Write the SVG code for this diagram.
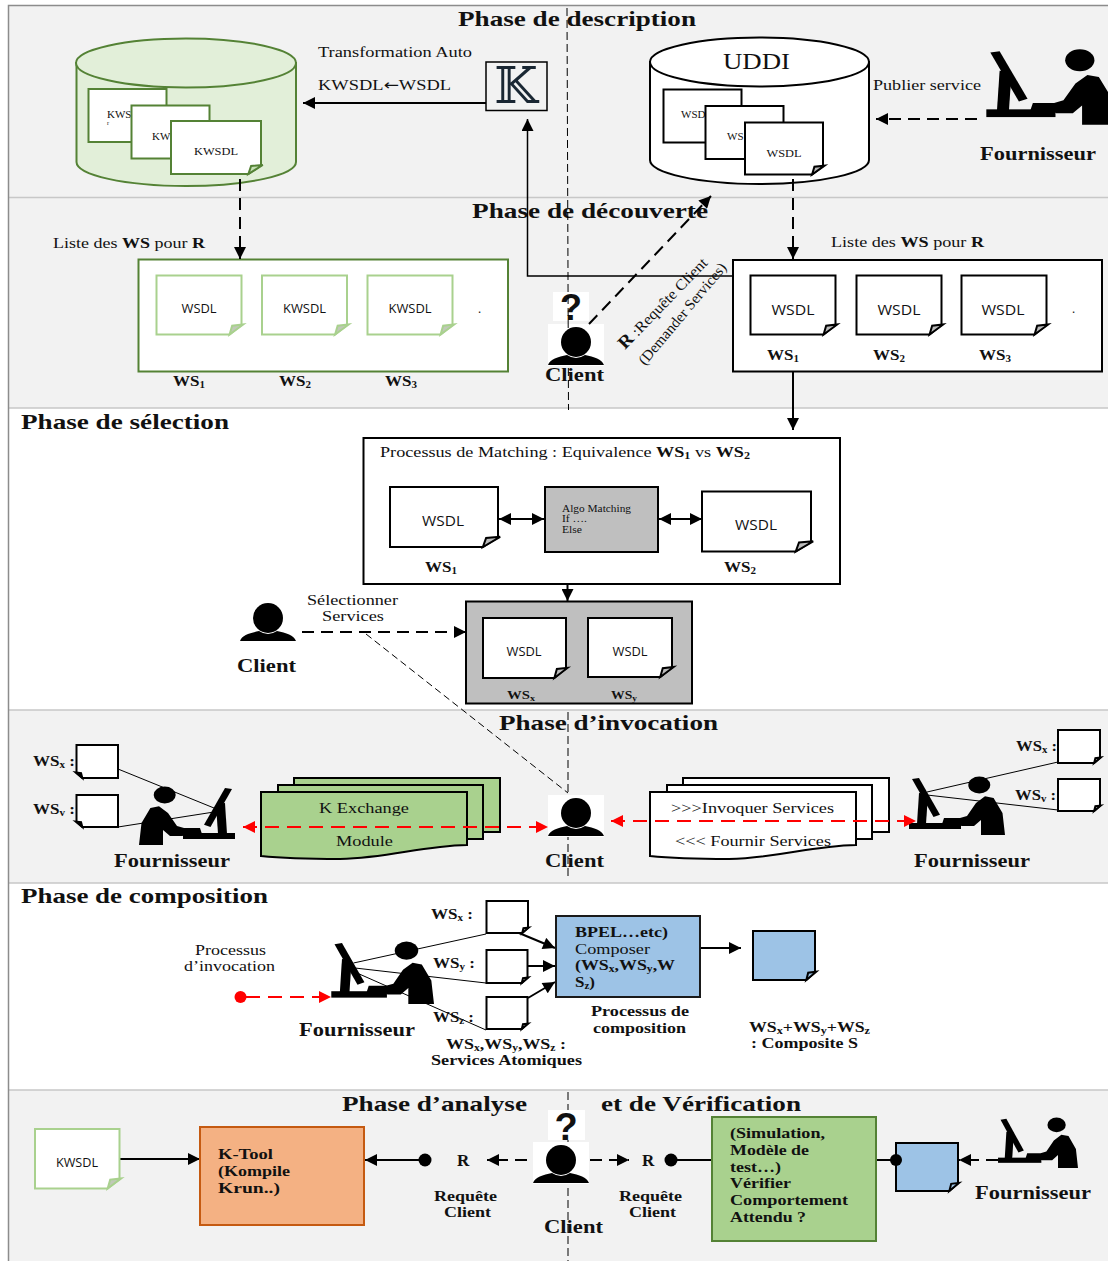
<svg xmlns="http://www.w3.org/2000/svg" width="1108" height="1261" viewBox="0 0 1108 1261">
<style>
text{font-family:"Liberation Serif","Times New Roman",serif;fill:#111}
.r{font-size:15px}
.b{font-size:15.5px;font-weight:700}
.h{font-size:21px;font-weight:700}
.f{font-size:18px;font-weight:700}
.s{font-family:"Open Sans","DejaVu Sans",sans-serif}
.m{text-anchor:middle}
.band{fill:#f2f2f2}
.sep{stroke:#c8c8c8;stroke-width:1.5;fill:none}
.a{fill:none;stroke:#000;stroke-width:2}
.a1{fill:none;stroke:#000;stroke-width:1.5}
.thin{fill:none;stroke:#000;stroke-width:1}
.d{fill:none;stroke:#000;stroke-width:2;stroke-dasharray:12 7}
.dr{fill:none;stroke:#f00;stroke-width:2;stroke-dasharray:14 8}
.cd{fill:none;stroke:#000;stroke-width:1;stroke-dasharray:7 4}
.box{fill:#fff;stroke:#000;stroke-width:2}
.doc{fill:#fff;stroke:#000;stroke-width:2;color:#bbb}
.gdoc{fill:#fff;stroke:#548235;stroke-width:2;color:#c5e0b4}
.ldoc{fill:#fff;stroke:#a9d18e;stroke-width:2;color:#c0c8b8}
.bdoc{fill:#9dc3e6;stroke:#000;stroke-width:2;color:#9dc3e6}
</style>
<defs>
<marker id="ah" viewBox="0 0 12 12" refX="12" refY="6" markerWidth="13" markerHeight="12" markerUnits="userSpaceOnUse" orient="auto-start-reverse"><path d="M0,0L12,6L0,12Z" fill="#000"/></marker>
<marker id="ar" viewBox="0 0 12 12" refX="12" refY="6" markerWidth="13" markerHeight="12" markerUnits="userSpaceOnUse" orient="auto-start-reverse"><path d="M0,0L12,6L0,12Z" fill="#f00"/></marker>
<symbol id="sdoc" viewBox="0 0 100 100" width="100" height="100" overflow="visible"><path vector-effect="non-scaling-stroke" d="M0,0H100V84L86,100H0Z"/><path vector-effect="non-scaling-stroke" d="M102,83L86,100L89,85Z" fill="currentColor"/></symbol>
<symbol id="ldocs" viewBox="0 0 100 100" width="100" height="100" overflow="visible"><path vector-effect="non-scaling-stroke" d="M0,0H100V100H14L0,84Z"/><path vector-effect="non-scaling-stroke" d="M-2,83L14,100L11,85Z" fill="#000"/></symbol>
<symbol id="prov" viewBox="0 0 96 58" width="96" height="58" overflow="visible"><ellipse cx="25.700" cy="8" rx="11" ry="8.500"/><path d="M0,58L2.500,36L11.400,21L20,19.300L29,26L38,39L45,41L61,41L63,47L45,48L43.500,49L31,49L24,43L24,58Z"/><rect x="44" y="46" width="52" height="6"/><path d="M77,17L86,16L88,47L79,47Z"/><path d="M65,37.700L86,1L93,2L71.500,40Z"/></symbol>
<symbol id="cli" viewBox="0 0 56 42" width="56" height="42"><rect width="56" height="42" fill="#fff"/><circle cx="28" cy="18" r="15"/><path d="M0,41C2,35 10,33 19,31Q28,37 37,31C46,33 54,35 56,41Z"/></symbol>
</defs>

<g id="bands">
<rect class="band" x="9" y="6" width="1099" height="402"/>
<rect class="band" x="9" y="710" width="1099" height="173"/>
<rect class="band" x="9" y="1090" width="1099" height="171"/>
<path class="sep" d="M9,197.500H1108M9,408H1108M9,710H1108M9,883H1108M9,1090H1108"/>
<path d="M1108,5.500H8.500V1261" fill="none" stroke="#8c8c8c" stroke-width="1.500"/>
</g>

<g id="phase-titles">
<text class="h" x="458" y="26" textLength="238" lengthAdjust="spacingAndGlyphs">Phase de description</text>
<text class="h" x="472" y="218" textLength="236" lengthAdjust="spacingAndGlyphs">Phase de découverte</text>
<text class="h" x="21" y="429" textLength="208" lengthAdjust="spacingAndGlyphs">Phase de sélection</text>
<text class="h" x="499" y="730" textLength="219" lengthAdjust="spacingAndGlyphs">Phase d’invocation</text>
<text class="h" x="21" y="903" textLength="247" lengthAdjust="spacingAndGlyphs">Phase de composition</text>
<text class="h" x="342" y="1111" textLength="185" lengthAdjust="spacingAndGlyphs">Phase d’analyse</text>
<text class="h" x="601" y="1111" textLength="200" lengthAdjust="spacingAndGlyphs">et de Vérification</text>
</g>

<g id="kwsdl-store">
<path d="M76.500,63V162C76.500,175 125,186 186,186S296,175 296,162V63Z" fill="#e2efd9" stroke="#548235" stroke-width="2"/>
<ellipse cx="186" cy="63" rx="110" ry="24.500" fill="#e2efd9" stroke="#548235" stroke-width="2"/>
<rect x="88.500" y="89" width="78" height="53" fill="#fff" stroke="#548235" stroke-width="2"/>
<text x="107" y="118" font-size="11">KWS</text>
<text x="107" y="125" font-size="6">r</text>
<rect x="131.500" y="105.500" width="78" height="53" fill="#fff" stroke="#548235" stroke-width="2"/>
<text x="152" y="140" font-size="11">KW</text>
<use href="#sdoc" class="gdoc" transform="translate(171,121) scale(.9,.53)"/>
<text class="m" x="216" y="155" font-size="11" textLength="44" lengthAdjust="spacingAndGlyphs">KWSDL</text>
</g>

<g id="k-tool-box">
<rect x="486" y="62" width="61" height="48.500" fill="#f2f2f2" stroke="#000" stroke-width="1.500"/>
<text class="m" x="516" y="103" font-size="50" style="font-family:'DejaVu Serif','DejaVu Sans',serif;fill:#1a2733">𝕂</text>
</g>
<g id="labels-top">
<text class="r" x="318" y="57" textLength="154" lengthAdjust="spacingAndGlyphs">Transformation Auto</text>
<text class="r" x="318" y="90" textLength="133" lengthAdjust="spacingAndGlyphs">KWSDL<tspan style="font-family:'DejaVu Sans',sans-serif">←</tspan>WSDL</text>
<text class="r" x="873" y="90" textLength="108" lengthAdjust="spacingAndGlyphs">Publier service</text>
</g>

<g id="uddi-store">
<path d="M650,62V160C650,173 699,184 759.500,184S869,173 869,160V62Z" fill="#fff" stroke="#000" stroke-width="2"/>
<ellipse cx="759.500" cy="62" rx="109.500" ry="24.500" fill="#fff" stroke="#000" stroke-width="2"/>
<text x="723" y="69" font-size="24" textLength="67" lengthAdjust="spacingAndGlyphs">UDDI</text>
<rect x="663.500" y="89.500" width="78" height="53" fill="#fff" stroke="#000" stroke-width="2"/>
<text x="681" y="118" font-size="11">WSD</text>
<rect x="705.500" y="106" width="78" height="53" fill="#fff" stroke="#000" stroke-width="2"/>
<text x="727" y="140" font-size="11">WS</text>
<use href="#sdoc" class="doc" transform="translate(745,122.500) scale(.78,.52)"/>
<text class="m" x="784" y="157" font-size="11" textLength="35" lengthAdjust="spacingAndGlyphs">WSDL</text>
</g>

<g id="fournisseur-publie">
<use href="#prov" transform="translate(1114,50) scale(-1.330,1.290)"/>
<text class="f" x="980" y="160" textLength="116" lengthAdjust="spacingAndGlyphs">Fournisseur</text>
</g>

<g id="liste-kwsdl">
<text class="r" x="53" y="248" textLength="152" lengthAdjust="spacingAndGlyphs">Liste des <tspan font-weight="700">WS</tspan> pour <tspan font-weight="700">R</tspan></text>
<rect x="138.500" y="259.500" width="369.500" height="112" fill="#fff" stroke="#548235" stroke-width="2"/>
<use href="#sdoc" class="ldoc" transform="translate(156.500,275.500) scale(.85,.59)"/>
<use href="#sdoc" class="ldoc" transform="translate(262,275.500) scale(.85,.59)"/>
<use href="#sdoc" class="ldoc" transform="translate(367.500,275.500) scale(.85,.59)"/>
<text class="s m" x="199" y="313" font-size="12.500" textLength="35" lengthAdjust="spacingAndGlyphs">WSDL</text>
<text class="s m" x="304.500" y="313" font-size="12.500" textLength="43" lengthAdjust="spacingAndGlyphs">KWSDL</text>
<text class="s m" x="410" y="313" font-size="12.500" textLength="43" lengthAdjust="spacingAndGlyphs">KWSDL</text>
<text class="s" x="478" y="313" font-size="12">.</text>
<text class="b" x="173" y="386" textLength="32" lengthAdjust="spacingAndGlyphs">WS<tspan font-size="10" dy="2">1</tspan></text>
<text class="b" x="279" y="386" textLength="32" lengthAdjust="spacingAndGlyphs">WS<tspan font-size="10" dy="2">2</tspan></text>
<text class="b" x="385" y="386" textLength="32" lengthAdjust="spacingAndGlyphs">WS<tspan font-size="10" dy="2">3</tspan></text>
</g>

<g id="liste-wsdl">
<text class="r" x="831" y="247" textLength="153" lengthAdjust="spacingAndGlyphs">Liste des <tspan font-weight="700">WS</tspan> pour <tspan font-weight="700">R</tspan></text>
<rect class="box" x="733" y="260" width="369" height="111.500"/>
<use href="#sdoc" class="doc" transform="translate(750.500,275.500) scale(.85,.59)"/>
<use href="#sdoc" class="doc" transform="translate(856.500,275.500) scale(.85,.59)"/>
<use href="#sdoc" class="doc" transform="translate(961.500,275.500) scale(.85,.59)"/>
<text class="s m" x="793" y="315" font-size="15" textLength="43" lengthAdjust="spacingAndGlyphs">WSDL</text>
<text class="s m" x="899" y="315" font-size="15" textLength="43" lengthAdjust="spacingAndGlyphs">WSDL</text>
<text class="s m" x="1003" y="315" font-size="15" textLength="43" lengthAdjust="spacingAndGlyphs">WSDL</text>
<text class="s" x="1072" y="313" font-size="12">.</text>
<text class="b" x="767" y="360" textLength="32" lengthAdjust="spacingAndGlyphs">WS<tspan font-size="10" dy="2">1</tspan></text>
<text class="b" x="873" y="360" textLength="32" lengthAdjust="spacingAndGlyphs">WS<tspan font-size="10" dy="2">2</tspan></text>
<text class="b" x="979" y="360" textLength="32" lengthAdjust="spacingAndGlyphs">WS<tspan font-size="10" dy="2">3</tspan></text>
</g>

<g id="client-decouverte">
<rect x="553" y="292" width="36" height="29" fill="#fff"/>
<text class="m" x="571" y="320" font-size="36" font-weight="700" style="font-family:'Liberation Sans',sans-serif">?</text>
<use href="#cli" x="548" y="324"/>
<text class="f" x="545" y="381" textLength="59" lengthAdjust="spacingAndGlyphs">Client</text>
<text class="r" transform="translate(625,350) rotate(-46)" textLength="120" lengthAdjust="spacingAndGlyphs"><tspan font-weight="700" font-size="18">R</tspan> :Requête Client</text>
<text class="r" transform="translate(645,366) rotate(-50)" textLength="128" lengthAdjust="spacingAndGlyphs">(Demander Services)</text>
</g>

<g id="matching">
<rect class="box" x="363.500" y="438" width="476.500" height="146"/>
<text class="r" x="380" y="457" textLength="370" lengthAdjust="spacingAndGlyphs">Processus de Matching : Equivalence <tspan font-weight="700">WS</tspan><tspan font-weight="700" font-size="10" dy="2">1</tspan><tspan dy="-2"> vs </tspan><tspan font-weight="700">WS</tspan><tspan font-weight="700" font-size="10" dy="2">2</tspan></text>
<use href="#sdoc" class="doc" transform="translate(390,487) scale(1.080,.600)"/>
<text class="s m" x="443" y="526" font-size="15" textLength="42" lengthAdjust="spacingAndGlyphs">WSDL</text>
<rect x="545" y="487" width="113" height="65" fill="#bfbfbf" stroke="#000" stroke-width="2"/>
<text x="562" y="512" font-size="9.500" textLength="69" lengthAdjust="spacingAndGlyphs">Algo Matching</text>
<text x="562" y="522" font-size="9.500" textLength="25" lengthAdjust="spacingAndGlyphs">If ….</text>
<text x="562" y="533" font-size="9.500" textLength="20" lengthAdjust="spacingAndGlyphs">Else</text>
<use href="#sdoc" class="doc" transform="translate(702,491.500) scale(1.090,.600)"/>
<text class="s m" x="756" y="530" font-size="15" textLength="42" lengthAdjust="spacingAndGlyphs">WSDL</text>
<text class="b" x="425" y="572" textLength="32" lengthAdjust="spacingAndGlyphs">WS<tspan font-size="10" dy="2">1</tspan></text>
<text class="b" x="724" y="572" textLength="32" lengthAdjust="spacingAndGlyphs">WS<tspan font-size="10" dy="2">2</tspan></text>
</g>

<g id="selection">
<rect x="466" y="601.500" width="226" height="102" fill="#bfbfbf" stroke="#000" stroke-width="2"/>
<use href="#sdoc" class="doc" transform="translate(483,618) scale(.83,.60)"/>
<use href="#sdoc" class="doc" transform="translate(588,618) scale(.84,.59)"/>
<text class="s m" x="524" y="656" font-size="12.500" textLength="35" lengthAdjust="spacingAndGlyphs">WSDL</text>
<text class="s m" x="630" y="656" font-size="12.500" textLength="35" lengthAdjust="spacingAndGlyphs">WSDL</text>
<text class="b" x="507" y="699" style="font-size:13px" textLength="28" lengthAdjust="spacingAndGlyphs">WS<tspan font-size="9" dy="2">x</tspan></text>
<text class="b" x="611" y="699" style="font-size:13px" textLength="26" lengthAdjust="spacingAndGlyphs">WS<tspan font-size="9" dy="2">y</tspan></text>
</g>

<g id="client-selection">
<use href="#cli" x="240" y="600"/>
<text class="f" x="237" y="672" textLength="59" lengthAdjust="spacingAndGlyphs">Client</text>
<text class="r" x="307" y="605" textLength="91" lengthAdjust="spacingAndGlyphs">Sélectionner</text>
<text class="r" x="322" y="621" textLength="62" lengthAdjust="spacingAndGlyphs">Services</text>
</g>

<g id="connectors">
<path class="thin" d="M567,8L568.500,410" stroke-dasharray="8 4"/>
<path class="thin" d="M568,712V877" stroke-dasharray="8 4"/>
<path class="thin" d="M568,1092V1261" stroke-dasharray="8 4"/>
<path class="a" d="M486,103H303" marker-end="url(#ah)"/>
<path class="a1" d="M733,276H527.500V119" marker-end="url(#ah)"/>
<path class="d" d="M240,179V259" marker-end="url(#ah)"/>
<path class="d" d="M793,179V259" marker-end="url(#ah)"/>
<path class="d" d="M977,119H876" marker-end="url(#ah)"/>
<path class="d" d="M589,324L711,196" marker-end="url(#ah)"/>
<path class="a" d="M793,372V430" marker-end="url(#ah)"/>
<path class="a" d="M499,519H544" marker-start="url(#ah)" marker-end="url(#ah)"/>
<path class="a" d="M659,519H702" marker-start="url(#ah)" marker-end="url(#ah)"/>
<path class="a" d="M567.500,584V601" marker-end="url(#ah)"/>
<path class="d" d="M302,632H466" marker-end="url(#ah)"/>
<path class="cd" d="M366,634L568,793"/>
<path class="a" d="M701,948H741" marker-end="url(#ah)"/>
<path class="a" d="M519,933L555,948" marker-end="url(#ah)"/>
<path class="a" d="M528,966H555" marker-end="url(#ah)"/>
<path class="a" d="M528,998L555,982" marker-end="url(#ah)"/>
<path class="a" d="M120,1159H200" marker-end="url(#ah)"/>
<path class="a" d="M425,1160H365" marker-end="url(#ah)"/>
<circle cx="425" cy="1160" r="6.500"/>
<path class="d" d="M527,1160H487" marker-end="url(#ah)"/>
<path class="d" d="M590,1160H629" marker-end="url(#ah)"/>
<path class="a" d="M671,1160H712"/>
<circle cx="671" cy="1160" r="6.500"/>
<path class="a" d="M877,1160H896"/>
<path class="d" d="M998,1160H959" marker-end="url(#ah)"/>
</g>

<g id="fournisseur-invocation-gauche">
<path class="thin" d="M118,769L214,808M118,827L214,812"/>
<use href="#ldocs" class="doc" transform="translate(76.500,745) scale(.415,.33)"/>
<use href="#ldocs" class="doc" transform="translate(76.500,795) scale(.415,.32)"/>
<text class="b" x="33" y="766" textLength="42" lengthAdjust="spacingAndGlyphs">WS<tspan font-size="10" dy="2">x</tspan><tspan dy="-2"> :</tspan></text>
<text class="b" x="33" y="814" textLength="42" lengthAdjust="spacingAndGlyphs">WS<tspan font-size="10" dy="2">v</tspan><tspan dy="-2"> :</tspan></text>
<use href="#prov" x="139" y="787"/>
<text class="f" x="114" y="867" textLength="116" lengthAdjust="spacingAndGlyphs">Fournisseur</text>
</g>

<g id="k-exchange">
<rect x="294" y="778" width="206" height="54" fill="#a9d18e" stroke="#000" stroke-width="2"/>
<rect x="278" y="785" width="205" height="54" fill="#a9d18e" stroke="#000" stroke-width="2"/>
<path d="M261,792H467V845C420,846 390,858 340,859C300,859 280,858 261,856Z" fill="#a9d18e" stroke="#000" stroke-width="2"/>
<text class="r" x="319" y="813" textLength="90" lengthAdjust="spacingAndGlyphs">K Exchange</text>
<text class="r" x="336" y="846" textLength="57" lengthAdjust="spacingAndGlyphs">Module</text>
</g>

<g id="invoquer">
<rect x="683" y="778" width="206" height="54" fill="#fff" stroke="#000" stroke-width="2"/>
<rect x="667" y="785" width="205" height="54" fill="#fff" stroke="#000" stroke-width="2"/>
<path d="M650,792H856V845C809,846 779,858 729,859C689,859 669,858 650,856Z" fill="#fff" stroke="#000" stroke-width="2"/>
<text class="r" x="671" y="813" textLength="163" lengthAdjust="spacingAndGlyphs">&gt;&gt;&gt;Invoquer Services</text>
<text class="r" x="675" y="846" textLength="156" lengthAdjust="spacingAndGlyphs">&lt;&lt;&lt; Fournir Services</text>
</g>

<g id="client-invocation">
<use href="#cli" x="548" y="795"/>
<text class="f" x="545" y="867" textLength="59" lengthAdjust="spacingAndGlyphs">Client</text>
</g>

<g id="fournisseur-invocation-droite">
<path class="thin" d="M1058,762L927,792M1058,810L927,795"/>
<use href="#sdoc" class="doc" transform="translate(1058,730) scale(.42,.33)"/>
<use href="#sdoc" class="doc" transform="translate(1058,779) scale(.42,.32)"/>
<text class="b" x="1016" y="751" textLength="41" lengthAdjust="spacingAndGlyphs">WS<tspan font-size="10" dy="2">x</tspan><tspan dy="-2"> :</tspan></text>
<text class="b" x="1015" y="800" textLength="41" lengthAdjust="spacingAndGlyphs">WS<tspan font-size="10" dy="2">v</tspan><tspan dy="-2"> :</tspan></text>
<use href="#prov" transform="translate(1005,777) scale(-1,1)"/>
<text class="f" x="914" y="867" textLength="116" lengthAdjust="spacingAndGlyphs">Fournisseur</text>
</g>

<g id="red-connectors">
<path class="dr" d="M243,827H548" marker-start="url(#ar)" marker-end="url(#ar)"/>
<path class="dr" d="M611,821H916" marker-start="url(#ar)" marker-end="url(#ar)"/>
<circle cx="240.500" cy="997" r="6" fill="#f00"/>
<path class="dr" d="M246,997H331" marker-end="url(#ar)"/>
</g>

<g id="fournisseur-composition">
<path class="thin" d="M353.500,963L486,934M355,968L486,983M357,973L486,1030"/>
<use href="#prov" transform="translate(434,942) scale(-1.070,1.070)"/>
<text class="f" x="299" y="1036" textLength="116" lengthAdjust="spacingAndGlyphs">Fournisseur</text>
<text class="r" x="195" y="955" textLength="71" lengthAdjust="spacingAndGlyphs">Processus</text>
<text class="r" x="184" y="971" textLength="91" lengthAdjust="spacingAndGlyphs">d’invocation</text>
</g>

<g id="services-atomiques">
<use href="#sdoc" class="doc" transform="translate(486.500,901) scale(.415,.32)"/>
<use href="#sdoc" class="doc" transform="translate(486.500,950) scale(.41,.33)"/>
<use href="#sdoc" class="doc" transform="translate(486.500,997) scale(.41,.32)"/>
<text class="b" x="431" y="919" textLength="42" lengthAdjust="spacingAndGlyphs">WS<tspan font-size="10" dy="2">x</tspan><tspan dy="-2"> :</tspan></text>
<text class="b" x="433" y="968" textLength="42" lengthAdjust="spacingAndGlyphs">WS<tspan font-size="10" dy="2">y</tspan><tspan dy="-2"> :</tspan></text>
<text class="b" x="433" y="1022" textLength="41" lengthAdjust="spacingAndGlyphs">WS<tspan font-size="10" dy="2">z</tspan><tspan dy="-2"> :</tspan></text>
<text class="b" x="446" y="1049" textLength="120" lengthAdjust="spacingAndGlyphs">WS<tspan font-size="10" dy="2">x</tspan><tspan dy="-2">,WS</tspan><tspan font-size="10" dy="2">y</tspan><tspan dy="-2">,WS</tspan><tspan font-size="10" dy="2">z</tspan><tspan dy="-2"> :</tspan></text>
<text class="b" x="431" y="1065" textLength="151" lengthAdjust="spacingAndGlyphs">Services Atomiques</text>
</g>

<g id="bpel-composer">
<rect x="556" y="916" width="144" height="81" fill="#9dc3e6" stroke="#1a1a1a" stroke-width="2"/>
<text class="b" x="575" y="937" textLength="93" lengthAdjust="spacingAndGlyphs">BPEL…etc)</text>
<text class="r" x="575" y="954" textLength="75" lengthAdjust="spacingAndGlyphs">Composer</text>
<text class="b" x="575" y="970" textLength="100" lengthAdjust="spacingAndGlyphs">(WS<tspan font-size="10" dy="2">x</tspan><tspan dy="-2">,WS</tspan><tspan font-size="10" dy="2">y</tspan><tspan dy="-2">,W</tspan></text>
<text class="b" x="575" y="987" textLength="20" lengthAdjust="spacingAndGlyphs">S<tspan font-size="10" dy="2">z</tspan><tspan dy="-2">)</tspan></text>
<text class="b" x="591" y="1016" style="font-size:14px" textLength="98" lengthAdjust="spacingAndGlyphs">Processus de</text>
<text class="b" x="593" y="1033" style="font-size:14px" textLength="93" lengthAdjust="spacingAndGlyphs">composition</text>
</g>

<g id="composite">
<use href="#sdoc" class="bdoc" transform="translate(753,931) scale(.62,.49)"/>
<text class="b" x="749" y="1032" style="font-size:14px" textLength="121" lengthAdjust="spacingAndGlyphs">WS<tspan font-size="9.500" dy="2">x</tspan><tspan dy="-2">+WS</tspan><tspan font-size="9.500" dy="2">y</tspan><tspan dy="-2">+WS</tspan><tspan font-size="9.500" dy="2">z</tspan></text>
<text class="b" x="751" y="1048" style="font-size:14px" textLength="107" lengthAdjust="spacingAndGlyphs">: Composite S</text>
</g>

<g id="kwsdl-doc">
<use href="#sdoc" class="ldoc" transform="translate(35,1129) scale(.845,.595)"/>
<text class="s m" x="77" y="1167" font-size="12" textLength="42" lengthAdjust="spacingAndGlyphs">KWSDL</text>
</g>

<g id="k-tool">
<rect x="200" y="1127" width="164" height="98" fill="#f4b183" stroke="#c55a11" stroke-width="2"/>
<text class="b" x="218" y="1159" textLength="55" lengthAdjust="spacingAndGlyphs">K-Tool</text>
<text class="b" x="218" y="1176" textLength="72" lengthAdjust="spacingAndGlyphs">(Kompile</text>
<text class="b" x="218" y="1193" textLength="62" lengthAdjust="spacingAndGlyphs">Krun..)</text>
</g>

<g id="client-analyse">
<rect x="548" y="1110" width="37" height="30" fill="#fff"/>
<text class="m" x="566" y="1140" font-size="38" font-weight="700" style="font-family:'Liberation Sans',sans-serif">?</text>
<use href="#cli" x="533" y="1142"/>
<text class="f" x="544" y="1233" textLength="59" lengthAdjust="spacingAndGlyphs">Client</text>
<text class="b" x="457" y="1166" style="font-size:17px">R</text>
<text class="b" x="642" y="1166" style="font-size:17px">R</text>
<text class="b" x="434" y="1201" style="font-size:14px" textLength="63" lengthAdjust="spacingAndGlyphs">Requête</text>
<text class="b" x="444" y="1217" style="font-size:14px" textLength="47" lengthAdjust="spacingAndGlyphs">Client</text>
<text class="b" x="619" y="1201" style="font-size:14px" textLength="63" lengthAdjust="spacingAndGlyphs">Requête</text>
<text class="b" x="629" y="1217" style="font-size:14px" textLength="47" lengthAdjust="spacingAndGlyphs">Client</text>
</g>

<g id="verification">
<rect x="712" y="1117" width="164" height="124" fill="#a9d18e" stroke="#548235" stroke-width="2"/>
<text class="b" x="730" y="1138" style="font-size:14px" textLength="95" lengthAdjust="spacingAndGlyphs">(Simulation,</text>
<text class="b" x="730" y="1155" style="font-size:14px" textLength="79" lengthAdjust="spacingAndGlyphs">Modèle de</text>
<text class="b" x="730" y="1172" style="font-size:14px" textLength="51" lengthAdjust="spacingAndGlyphs">test…)</text>
<text class="b" x="730" y="1188" style="font-size:14px" textLength="61" lengthAdjust="spacingAndGlyphs">Vérifier</text>
<text class="b" x="730" y="1205" style="font-size:14px" textLength="118" lengthAdjust="spacingAndGlyphs">Comportement</text>
<text class="b" x="730" y="1222" style="font-size:14px" textLength="76" lengthAdjust="spacingAndGlyphs">Attendu ?</text>
</g>

<g id="doc-bleu">
<use href="#sdoc" class="bdoc" transform="translate(896,1143) scale(.62,.48)"/>
<circle cx="896" cy="1160" r="6"/>
</g>

<g id="fournisseur-analyse">
<use href="#prov" transform="translate(1078,1118) scale(-.833,.862)"/>
<text class="f" x="975" y="1199" textLength="116" lengthAdjust="spacingAndGlyphs">Fournisseur</text>
</g>
</svg>
